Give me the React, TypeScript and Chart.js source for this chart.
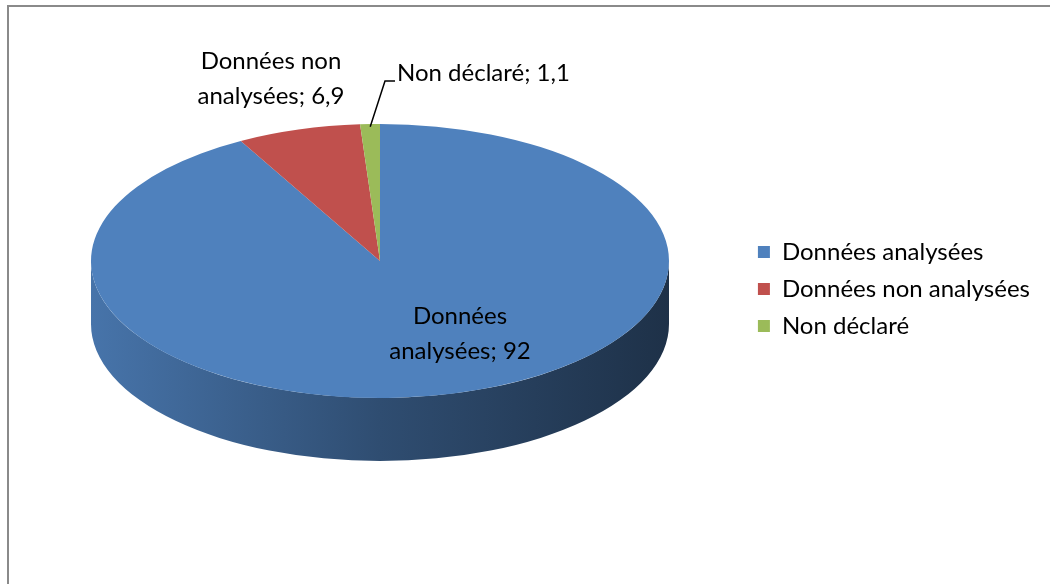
import React, { useEffect, useRef } from "react";
import { Chart, registerables } from "chart.js";

Chart.register(...registerables);

// ---- data ----
const categories: string[] = ["Données analysées", "Données non analysées", "Non déclaré"];
const values: number[] = [92, 6.9, 1.1];
const sliceColors: string[] = ["#4F81BD", "#C0504D", "#9BBB59"];

// ---- layout / style ----
const FONT_FAMILY = "Lato, 'Open Sans', 'DejaVu Sans', sans-serif";
const FONT_SIZE = 24;
const PIE_CX = 380;
const PIE_CY = 261;
const PIE_RX = 289;
const PIE_RY = 137;
const PIE_DEPTH = 63;
const LINE_GAP = 35;
const labelPlacement: { x: number; y: number; wrap: number; align: "center" | "left" }[] = [
  { x: 460, y: 334, wrap: 170, align: "center" },
  { x: 271, y: 79, wrap: 200, align: "center" },
  { x: 397, y: 73, wrap: 260, align: "left" },
];

const fmt = (v: number) => String(v).replace(".", ",");

function shade(hex: string, f: number) {
  const n = parseInt(hex.slice(1), 16);
  const r = Math.round(((n >> 16) & 255) * f);
  const g = Math.round(((n >> 8) & 255) * f);
  const b = Math.round((n & 255) * f);
  return `rgb(${r},${g},${b})`;
}

function wrapText(ctx: CanvasRenderingContext2D, text: string, maxW: number) {
  const words = text.split(" ");
  const lines: string[] = [];
  let cur = "";
  for (const w of words) {
    const t = cur ? cur + " " + w : w;
    if (cur && ctx.measureText(t).width > maxW) {
      lines.push(cur);
      cur = w;
    } else cur = t;
  }
  if (cur) lines.push(cur);
  return lines;
}

const pie3dPlugin = {
  id: "pie3d",
  beforeDraw(chart: any) {
    const ctx = chart.ctx as CanvasRenderingContext2D;
    ctx.save();
    ctx.fillStyle = "#ffffff";
    ctx.fillRect(0, 0, chart.width, chart.height);
    ctx.strokeStyle = "#8a8a8a";
    ctx.lineWidth = 2;
    ctx.strokeRect(8, 6, chart.width + 20, chart.height + 20);
    ctx.restore();
  },
  beforeDatasetsDraw(chart: any) {
    const ctx = chart.ctx as CanvasRenderingContext2D;
    const meta = chart.getDatasetMeta(0);
    const arcs = meta.data as any[];
    ctx.save();
    arcs.forEach((arc, i) => {
      const s = arc.startAngle;
      const e = arc.endAngle;
      for (let k = -1; k <= 1; k++) {
        const lo = Math.max(s, k * 2 * Math.PI);
        const hi = Math.min(e, k * 2 * Math.PI + Math.PI);
        if (hi <= lo) continue;
        const grad = ctx.createLinearGradient(PIE_CX - PIE_RX, 0, PIE_CX + PIE_RX, 0);
        const c = sliceColors[i];
        grad.addColorStop(0, shade(c, 0.9));
        grad.addColorStop(0.5, shade(c, 0.6));
        grad.addColorStop(1, shade(c, 0.38));
        ctx.beginPath();
        ctx.ellipse(PIE_CX, PIE_CY, PIE_RX, PIE_RY, 0, lo, hi, false);
        ctx.lineTo(PIE_CX + PIE_RX * Math.cos(hi), PIE_CY + PIE_DEPTH + PIE_RY * Math.sin(hi));
        ctx.ellipse(PIE_CX, PIE_CY + PIE_DEPTH, PIE_RX, PIE_RY, 0, hi, lo, true);
        ctx.closePath();
        ctx.fillStyle = grad;
        ctx.fill();
      }
    });
    ctx.restore();
    const a0 = arcs[0];
    const R = a0.outerRadius;
    ctx.save();
    ctx.translate(PIE_CX, PIE_CY);
    ctx.scale(PIE_RX / R, PIE_RY / R);
    ctx.translate(-a0.x, -a0.y);
  },
  afterDatasetsDraw(chart: any) {
    chart.ctx.restore();
  },
  afterDraw(chart: any) {
    const ctx = chart.ctx as CanvasRenderingContext2D;
    const arcs = chart.getDatasetMeta(0).data as any[];
    ctx.save();
    ctx.font = `${FONT_SIZE}px ${FONT_FAMILY}`;
    ctx.fillStyle = "#000";
    ctx.textBaseline = "middle";
    categories.forEach((cat, i) => {
      const p = labelPlacement[i];
      const lines = wrapText(ctx, `${cat}; ${fmt(values[i])}`, p.wrap);
      ctx.textAlign = p.align;
      const top = p.y - ((lines.length - 1) * LINE_GAP) / 2;
      lines.forEach((ln, j) => ctx.fillText(ln, p.x, top + j * LINE_GAP));
    });
    const arc = arcs[2];
    const mid = (arc.startAngle + arc.endAngle) / 2;
    const sx = PIE_CX + PIE_RX * 0.98 * Math.cos(mid);
    const sy = PIE_CY + PIE_RY * 0.98 * Math.sin(mid);
    ctx.strokeStyle = "#000";
    ctx.lineWidth = 1.5;
    ctx.beginPath();
    ctx.moveTo(sx, sy);
    ctx.lineTo(385, 81);
    ctx.lineTo(395, 81);
    ctx.stroke();
    ctx.restore();
  },
};

export default function App() {
  const ref = useRef<HTMLCanvasElement | null>(null);
  useEffect(() => {
    if (!ref.current) return;
    const chart = new Chart(ref.current, {
      type: "pie",
      data: {
        labels: categories,
        datasets: [
          {
            data: values,
            backgroundColor: sliceColors,
            borderWidth: 0,
            clip: false as any,
          } as any,
        ],
      },
      options: {
        responsive: false,
        animation: false,
        layout: { padding: { right: 10, bottom: 6, top: 0, left: 0 } },
        plugins: {
          legend: {
            position: "right",
            labels: {
              font: { family: FONT_FAMILY, size: FONT_SIZE },
              color: "#000",
              boxWidth: 12,
              boxHeight: 12,
              padding: 13,
            },
          },
          tooltip: { enabled: false },
        },
      },
      plugins: [pie3dPlugin],
    });
    return () => chart.destroy();
  }, []);
  return (
    <div style={{ position: "absolute", left: 0, top: 0, width: 1050, height: 584 }}>
      <canvas ref={ref} width={1050} height={584} style={{ width: 1050, height: 584, display: "block" }} />
    </div>
  );
}
